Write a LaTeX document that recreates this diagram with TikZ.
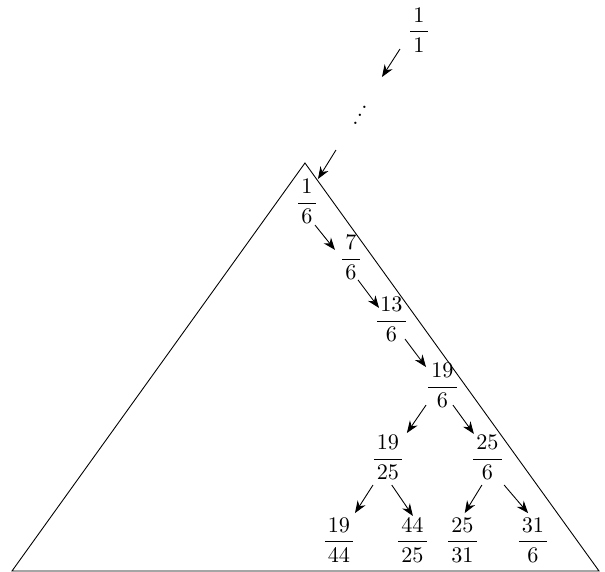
\documentclass[tikz,border=0pt]{standalone}
\usepackage{amsmath}
\usepackage{tikz}
\usetikzlibrary{arrows.meta}

\newcommand{\fr}[2]{$\dfrac{\mkern2.5mu#1\mkern2.5mu}{\mkern2.5mu#2\mkern2.5mu}$}
\newcommand{\updots}{\mbox{.\kern-0.8pt\raisebox{3.6pt}{.}\kern-0.8pt\raisebox{7.2pt}{.}}}

\begin{document}
\begin{tikzpicture}[
  frac/.style={inner sep=0pt, outer sep=0pt},
  >={Stealth[length=5.5pt,width=4.2pt]}
]
\useasboundingbox (0,0) rectangle (9.568,9.046);

% subtree
\coordinate (apex) at (4.823,6.468);
\coordinate (bl) at (0.190,0.016);
\coordinate (br) at (9.473,0.016);
\draw (bl) -- (apex) -- (br) -- cycle;

\node[frac] (one) at (6.626,8.571) {\fr{1}{1}};
\node[frac] (dots) at (5.693,7.227) {\updots};
\node[frac] (a) at (4.855,5.859) {\fr{1}{6}};
\node[frac] (b) at (5.551,4.974) {\fr{7}{6}};
\node[frac] (c) at (6.191,3.993) {\fr{13}{6}};
\node[frac] (d) at (6.998,2.949) {\fr{19}{6}};
\node[frac] (dl) at (6.136,1.811) {\fr{19}{25}};
\node[frac] (dr) at (7.709,1.811) {\fr{25}{6}};
\node[frac] (dll) at (5.361,0.506) {\fr{19}{44}};
\node[frac] (dlr) at (6.523,0.506) {\fr{44}{25}};
\node[frac] (drl) at (7.314,0.506) {\fr{25}{31}};
\node[frac] (drr) at (8.429,0.506) {\fr{31}{6}};

\draw[->] ([shift={(-8.55pt,-8.55pt)}]one.center) -- ([shift={(9.9pt,17.1pt)}]dots.center);
\draw[->] ([shift={(-10.8pt,-15.75pt)}]dots.center) -- ([shift={(4.95pt,10.13pt)}]a.center);
\draw[->] ([shift={(3.6pt,-10.6pt)}]a.center) -- ([shift={(-7.2pt,3.4pt)}]b.center);
\draw[->] ([shift={(3.15pt,-10.1pt)}]b.center) -- ([shift={(-5.6pt,5.2pt)}]c.center);
\draw[->] ([shift={(6.1pt,-8.8pt)}]c.center) -- ([shift={(-7.4pt,8.3pt)}]d.center);
\draw[->] ([shift={(-7.4pt,-8.8pt)}]d.center) -- ([shift={(8.5pt,11pt)}]dl.center);
\draw[->] ([shift={(4.7pt,-8.8pt)}]d.center) -- ([shift={(-6.1pt,10.6pt)}]dr.center);
\draw[->] ([shift={(-6.75pt,-12.4pt)}]dl.center) -- ([shift={(7.2pt,12.1pt)}]dll.center);
\draw[->] ([shift={(1.7pt,-12.4pt)}]dl.center) -- ([shift={(0.2pt,10.8pt)}]dlr.center);
\draw[->] ([shift={(-2.5pt,-12.4pt)}]dr.center) -- ([shift={(1pt,12.1pt)}]drl.center);
\draw[->] ([shift={(7.5pt,-12.4pt)}]dr.center) -- ([shift={(-2.2pt,12.1pt)}]drr.center);
\end{tikzpicture}
\end{document}
